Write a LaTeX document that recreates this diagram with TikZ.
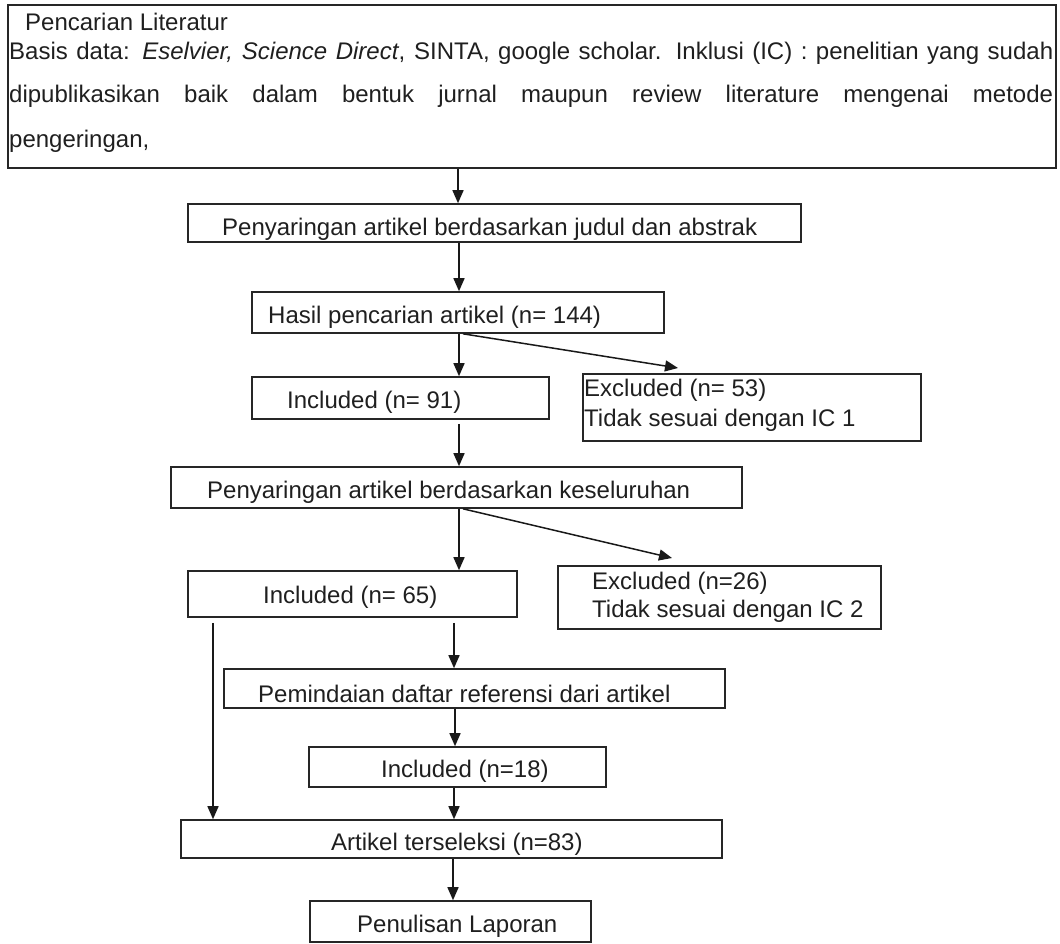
\documentclass[tikz,border=0pt]{standalone}
\usepackage{fontspec}
\setmainfont{Liberation Sans}
\usetikzlibrary{arrows.meta}
\begin{document}
\begin{tikzpicture}[x=1pt,y=-1pt,
  box/.style={draw=black!85, line width=1.6pt, inner sep=0pt},
  txt/.style={anchor=base west, inner sep=0pt, text=black!88, font=\fontsize{24}{28}\selectfont},
  arr/.style={draw=black!90, line width=1.5pt, -{Triangle[length=13pt,width=11pt]}}]
\useasboundingbox (0,0) rectangle (1060,943);
% boxes
\node[box, minimum width=1048pt, minimum height=163pt] (top) at (532,86.5) {};
\node[box, minimum width=613pt, minimum height=38pt] (b2) at (494.5,223) {};
\node[box, minimum width=412pt, minimum height=41pt] (b3) at (458,312.5) {};
\node[box, minimum width=297pt, minimum height=42pt] (b4) at (400.5,398) {};
\node[box, minimum width=338pt, minimum height=67pt] (b5) at (752,407.5) {};
\node[box, minimum width=571pt, minimum height=41pt] (b6) at (456.5,487.5) {};
\node[box, minimum width=329pt, minimum height=46pt] (b7) at (352.5,594) {};
\node[box, minimum width=323pt, minimum height=63pt] (b8) at (719.5,597.5) {};
\node[box, minimum width=501pt, minimum height=39pt] (b9) at (474.5,688.5) {};
\node[box, minimum width=297pt, minimum height=40pt] (b10) at (457.5,767) {};
\node[box, minimum width=541pt, minimum height=38pt] (b11) at (451.5,839) {};
\node[box, minimum width=281pt, minimum height=41pt] (b12) at (450.5,921.5) {};
% texts
\node[txt] (t1) at (25,30) {Pencarian Literatur};
\node[txt] (t2) at (9,59) {\makebox[1044pt][s]{Basis data: \textit{Eselvier, Science Direct}, SINTA, google scholar. Inklusi (IC) : penelitian yang sudah}};
\node[txt] (t3) at (9,102) {\makebox[1044pt][s]{dipublikasikan baik dalam bentuk jurnal maupun review literature mengenai metode}};
\node[txt] (t4) at (9,147) {pengeringan,};
\node[txt] (l2) at (222,235) {Penyaringan artikel berdasarkan judul dan abstrak};
\node[txt] (l3) at (268,323) {Hasil pencarian artikel (n= 144)};
\node[txt] (l4) at (287,408) {Included (n= 91)};
\node[txt] (l5a) at (584,396) {Excluded (n= 53)};
\node[txt] (l5b) at (584,426) {Tidak sesuai dengan IC 1};
\node[txt] (l6) at (207,498) {Penyaringan artikel berdasarkan keseluruhan};
\node[txt] (l7) at (263,603) {Included (n= 65)};
\node[txt] (l8a) at (592,589) {Excluded (n=26)};
\node[txt] (l8b) at (592,617) {Tidak sesuai dengan IC 2};
\node[txt] (l9) at (258,702) {Pemindaian daftar referensi dari artikel};
\node[txt] (l10) at (381,777) {Included (n=18)};
\node[txt] (l11) at (331,850) {Artikel terseleksi (n=83)};
\node[txt] (l12) at (357,932) {Penulisan Laporan};
% free ends of diagonal arrows
\coordinate (d1) at (678,368);
\coordinate (d2) at (672,558);
% connectors
\draw[arr] (458,0 |- top.south) -- (458,0 |- b2.north);
\draw[arr] (459,0 |- b2.south) -- (459,0 |- b3.north);
\draw[arr] (459,0 |- b3.south) -- (459,0 |- b4.north);
\draw[arr] (463,0 |- b3.south) -- (d1);
\draw[arr, shorten <=4pt] (459,0 |- b4.south) -- (459,0 |- b6.north);
\draw[arr] (459,0 |- b6.south) -- (459,0 |- b7.north);
\draw[arr] (463,0 |- b6.south) -- (d2);
\draw[arr, shorten <=5pt] (454,0 |- b7.south) -- (454,0 |- b9.north);
\draw[arr, shorten <=5pt] (213,0 |- b7.south) -- (213,0 |- b11.north);
\draw[arr] (455,0 |- b9.south) -- (455,0 |- b10.north);
\draw[arr] (454,0 |- b10.south) -- (454,0 |- b11.north);
\draw[arr] (453,0 |- b11.south) -- (453,0 |- b12.north);
\end{tikzpicture}
\end{document}
